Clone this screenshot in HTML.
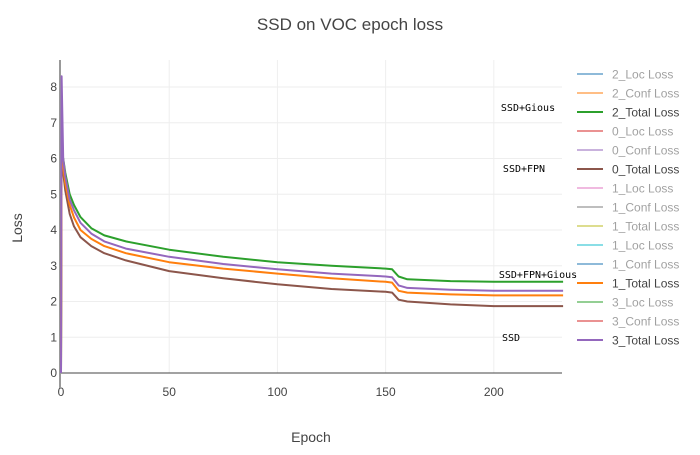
<!DOCTYPE html>
<html><head><meta charset="utf-8"><style>
body{margin:0;background:#fff;}
svg text{font-family:"Liberation Sans",sans-serif;}
</style></head><body>
<svg id="chart" width="700" height="450" xmlns="http://www.w3.org/2000/svg">
<text x="350" y="30" text-anchor="middle" font-size="17" fill="#444">SSD on VOC epoch loss</text>
<text x="311" y="442" text-anchor="middle" font-size="14" fill="#444">Epoch</text>
<text x="22" y="228" text-anchor="middle" font-size="14" fill="#444" transform="rotate(-90 22 228)">Loss</text>
<g id="grid"></g><g id="series"></g><g id="legend"></g>
<g fill="#000">
<text x="528" y="111" text-anchor="middle" style="font-family:'DejaVu Sans Mono',monospace;font-size:10px">SSD+Gious</text>
<text x="524" y="172" text-anchor="middle" style="font-family:'DejaVu Sans Mono',monospace;font-size:10px">SSD+FPN</text>
<text x="538" y="278" text-anchor="middle" style="font-family:'DejaVu Sans Mono',monospace;font-size:10px">SSD+FPN+Gious</text>
<text x="511" y="341" text-anchor="middle" style="font-family:'DejaVu Sans Mono',monospace;font-size:10px">SSD</text>
</g>
</svg>
<script>
const epochs=[0,0.3,1,2,4,6,9,14,20,30,50,75,100,125,150,153,156,160,180,200,232];
const green=[0,6.2,6.0,5.6,5.0,4.7,4.36,4.05,3.85,3.68,3.45,3.25,3.1,3.0,2.92,2.9,2.7,2.62,2.57,2.55,2.55];
const purple=[0,8.3,6.0,5.5,4.85,4.55,4.2,3.9,3.68,3.48,3.25,3.05,2.9,2.78,2.7,2.68,2.45,2.38,2.33,2.3,2.3];
const orange=[0,6.1,5.8,5.3,4.7,4.35,4.0,3.75,3.55,3.35,3.1,2.92,2.78,2.65,2.55,2.53,2.3,2.25,2.2,2.17,2.17];
const brown=[0,6.0,5.6,5.1,4.45,4.1,3.8,3.55,3.35,3.15,2.85,2.65,2.48,2.35,2.27,2.25,2.05,2.0,1.92,1.87,1.87];
const xTicks=[0,50,100,150,200];
const yTicks=[0,1,2,3,4,5,6,7,8];
const legendNames=["2_Loc Loss","2_Conf Loss","2_Total Loss","0_Loc Loss","0_Conf Loss","0_Total Loss","1_Loc Loss","1_Conf Loss","1_Total Loss","1_Loc Loss","1_Conf Loss","1_Total Loss","3_Loc Loss","3_Conf Loss","3_Total Loss"];
const legendVisible=[0,0,1,0,0,1,0,0,0,0,0,1,0,0,1];
const colors=["#1f77b4","#ff7f0e","#2ca02c","#d62728","#9467bd","#8c564b","#e377c2","#7f7f7f","#bcbd22","#17becf","#1f77b4","#ff7f0e","#2ca02c","#d62728","#9467bd"];
const NS="http://www.w3.org/2000/svg";
const X0=61,X1=562,XMAX=231.5,Y0=373,YS=35.75;
const xs=v=>X0+v*(X1-X0)/XMAX, ys=v=>Y0-v*YS;
function mk(t,a,p){const e=document.createElementNS(NS,t);for(const k in a)e.setAttribute(k,a[k]);p.appendChild(e);return e;}
const grid=document.getElementById('grid');
xTicks.forEach(t=>{
 if(t>0){const l=mk('line',{x1:xs(t),x2:xs(t),y1:60,y2:373,stroke:'#eee','stroke-width':1},grid);
 
 }
 const tx=mk('text',{x:xs(t),y:396,'text-anchor':'middle','font-size':12,fill:'#444'},grid);tx.textContent=t;
 
 
});
yTicks.forEach(t=>{
 if(t>0){const l=mk('line',{x1:61,x2:562,y1:ys(t),y2:ys(t),stroke:'#eee','stroke-width':1},grid);
 
 }
 const tx=mk('text',{x:57,y:ys(t)+4,'text-anchor':'end','font-size':12,fill:'#444'},grid);tx.textContent=t;
 
 
});
const za=mk('line',{x1:61,x2:562,y1:373,y2:373,stroke:'#444','stroke-width':1},grid);


const ya=mk('line',{x1:60,x2:60,y1:60,y2:388,stroke:'#999','stroke-width':2},grid);


const ser=document.getElementById('series');
[[green,'#2ca02c','series-2-total-loss'],[brown,'#8c564b','series-0-total-loss'],[orange,'#ff7f0e','series-1-total-loss'],[purple,'#9467bd','series-3-total-loss']].forEach(([d,c,n])=>{
 const p=mk('path',{d:d.map((v,i)=>(i?'L':'M')+xs(epochs[i]).toFixed(1)+','+ys(v).toFixed(1)).join(''),fill:'none',stroke:c,'stroke-width':2,'stroke-linejoin':'round'},ser);
 
 
});
const lg=document.getElementById('legend');
legendNames.forEach((n,i)=>{
 const y=74+i*19;
 const g=mk('g',{opacity:legendVisible[i]?1:0.5},lg);
 
 
 mk('line',{x1:577,x2:603,y1:y,y2:y,stroke:colors[i],'stroke-width':2},g);
 const t=mk('text',{x:612,y:y+4.5,'font-size':12,fill:'#444'},g);t.textContent=n;
});
</script>
</body></html>
